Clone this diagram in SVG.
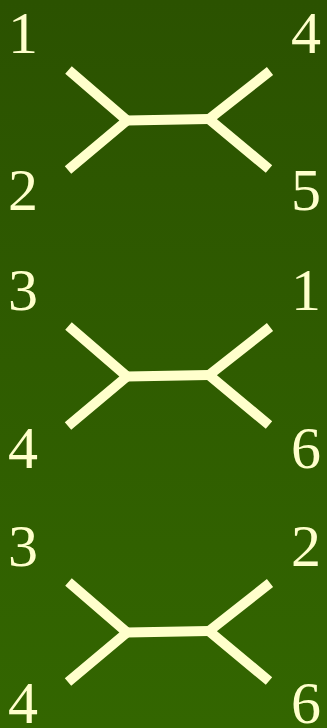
<svg xmlns="http://www.w3.org/2000/svg" width="327" height="728" viewBox="0 0 327 728">
<defs>
<linearGradient id="bg" x1="0" y1="0" x2="0" y2="1">
<stop offset="0" stop-color="#2b5200"/>
<stop offset="1" stop-color="#336600"/>
</linearGradient>
<style>
.lbl{font-size:60px;fill:#ffffcc}
.br{stroke:#ffffcc;stroke-width:10;fill:none;stroke-linecap:butt;stroke-linejoin:miter}
</style>
</defs>
<rect width="327" height="728" fill="url(#bg)"/>
<g id="connectors">
<g id="tree1">
<path class="br" d="M68.5,70 L127,120.5 L68,170"/>
<path class="br" d="M127,120.5 L209,119"/>
<path class="br" d="M270,71 L209,119 L269,169"/>
</g>
<g id="tree2" transform="translate(0,256)">
<path class="br" d="M68.5,70 L127,120.5 L68,170"/>
<path class="br" d="M127,120.5 L209,119"/>
<path class="br" d="M270,71 L209,119 L269,169"/>
</g>
<g id="tree3" transform="translate(0,512)">
<path class="br" d="M68.5,70 L127,120.5 L68,170"/>
<path class="br" d="M127,120.5 L209,119"/>
<path class="br" d="M270,71 L209,119 L269,169"/>
</g>
</g>
<g font-family="'Liberation Serif', serif">
<g id="n1a"><text class="lbl" x="8" y="53">1</text></g>
<g id="n4a"><text class="lbl" x="291" y="53">4</text></g>
<g id="n2a"><text class="lbl" x="8" y="210">2</text></g>
<g id="n5a"><text class="lbl" x="291" y="210">5</text></g>
<g id="n3b"><text class="lbl" x="8" y="310">3</text></g>
<g id="n1b"><text class="lbl" x="291" y="310">1</text></g>
<g id="n4b"><text class="lbl" x="8" y="468">4</text></g>
<g id="n6b"><text class="lbl" x="291" y="468">6</text></g>
<g id="n3c"><text class="lbl" x="8" y="566">3</text></g>
<g id="n2c"><text class="lbl" x="291" y="566">2</text></g>
<g id="n4c"><text class="lbl" x="8" y="723">4</text></g>
<g id="n6c"><text class="lbl" x="291" y="723">6</text></g>
</g>
</svg>
